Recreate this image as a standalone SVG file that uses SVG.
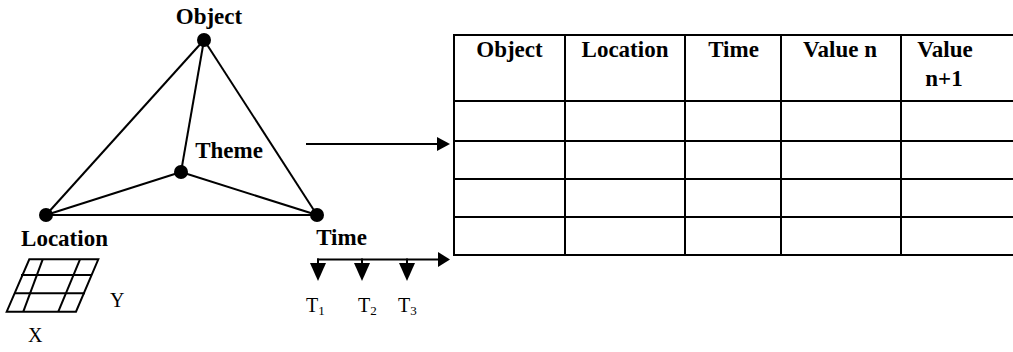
<svg xmlns="http://www.w3.org/2000/svg" width="1013" height="352" viewBox="0 0 1013 352">
  <style>
    .bold { font-family: "Liberation Serif", "Times New Roman", serif; font-weight: bold; font-size: 23px; fill: #000; }
    .reg { font-family: "Liberation Serif", "Times New Roman", serif; font-size: 20px; fill: #000; }
    .mid { text-anchor: middle; }
    .sub { font-size: 13px; }
    .edge { stroke: #000; stroke-width: 2; fill: none; }
    .grid { stroke: #000; stroke-width: 2; fill: none; }
    .dot { fill: #000; }
    .head { fill: #000; }
  </style>
  <rect width="1013" height="352" fill="#fff"/>

  <!-- edges of the tetrahedron and the arrows -->
  <g id="connectors">
    <line class="edge" x1="204" y1="40" x2="46" y2="215"/>
    <line class="edge" x1="204" y1="40" x2="317" y2="215"/>
    <line class="edge" x1="204" y1="40" x2="181" y2="172"/>
    <line class="edge" x1="181" y1="172" x2="46" y2="215"/>
    <line class="edge" x1="181" y1="172" x2="317" y2="215"/>
    <line class="edge" x1="46" y1="215" x2="317" y2="215"/>
    <!-- arrow into the table -->
    <line class="edge" x1="306" y1="144" x2="440" y2="144"/>
    <polygon class="head" points="437,137 450,144 437,151"/>
  </g>

  <g id="node-object">
    <circle class="dot" cx="204" cy="40" r="7"/>
    <text class="bold mid" x="209" y="24">Object</text>
  </g>

  <g id="node-theme">
    <circle class="dot" cx="181" cy="172" r="7"/>
    <text class="bold mid" x="229" y="158">Theme</text>
  </g>

  <g id="node-location">
    <circle class="dot" cx="46" cy="215" r="7"/>
    <text class="bold mid" x="64.5" y="246">Location</text>
    <!-- spatial grid -->
    <polygon class="grid" points="29.3,259.3 98.3,259.3 76,311.7 6.7,311.7"/>
    <line class="grid" x1="21" y1="275" x2="92" y2="275"/>
    <line class="grid" x1="14" y1="293.3" x2="85" y2="293.3"/>
    <line class="grid" x1="42.7" y1="259.3" x2="23.3" y2="311.7"/>
    <line class="grid" x1="80" y1="259.3" x2="58.3" y2="311.7"/>
    <text class="reg" x="110" y="307">Y</text>
    <text class="reg" x="28" y="342">X</text>
  </g>

  <g id="node-time">
    <circle class="dot" cx="317" cy="215" r="7"/>
    <text class="bold mid" x="341.5" y="245">Time</text>
    <!-- time axis -->
    <line class="edge" x1="317" y1="259.5" x2="440" y2="259.5"/>
    <polygon class="head" points="438,252 450,259.5 438,267"/>
    <line class="edge" x1="318" y1="258.5" x2="318" y2="265"/>
    <line class="edge" x1="362" y1="258.5" x2="362" y2="265"/>
    <line class="edge" x1="407" y1="258.5" x2="407" y2="265"/>
    <polygon class="head" points="310,263 326,263 318,281"/>
    <polygon class="head" points="354,263 370,263 362,281"/>
    <polygon class="head" points="399,263 415,263 407,281"/>
    <text class="reg" x="306" y="312">T<tspan class="sub" dy="3">1</tspan></text>
    <text class="reg" x="358" y="312">T<tspan class="sub" dy="3">2</tspan></text>
    <text class="reg" x="398" y="312">T<tspan class="sub" dy="3">3</tspan></text>
  </g>

  <g id="node-table">
    <g class="grid">
      <line x1="453" y1="35" x2="1013" y2="35"/>
      <line x1="453" y1="101" x2="1013" y2="101"/>
      <line x1="453" y1="141" x2="1013" y2="141"/>
      <line x1="453" y1="179" x2="1013" y2="179"/>
      <line x1="453" y1="217" x2="1013" y2="217"/>
      <line x1="453" y1="255" x2="1013" y2="255"/>
      <line x1="454" y1="34" x2="454" y2="256"/>
      <line x1="565" y1="34" x2="565" y2="256"/>
      <line x1="685" y1="34" x2="685" y2="256"/>
      <line x1="781" y1="34" x2="781" y2="256"/>
      <line x1="901" y1="34" x2="901" y2="256"/>
    </g>
    <text class="bold mid" x="509.5" y="57">Object</text>
    <text class="bold mid" x="625" y="57">Location</text>
    <text class="bold mid" x="733.5" y="57">Time</text>
    <text class="bold mid" x="840" y="57">Value n</text>
    <text class="bold mid" x="945" y="57">Value</text>
    <text class="bold mid" x="944" y="86">n+1</text>
  </g>
</svg>
